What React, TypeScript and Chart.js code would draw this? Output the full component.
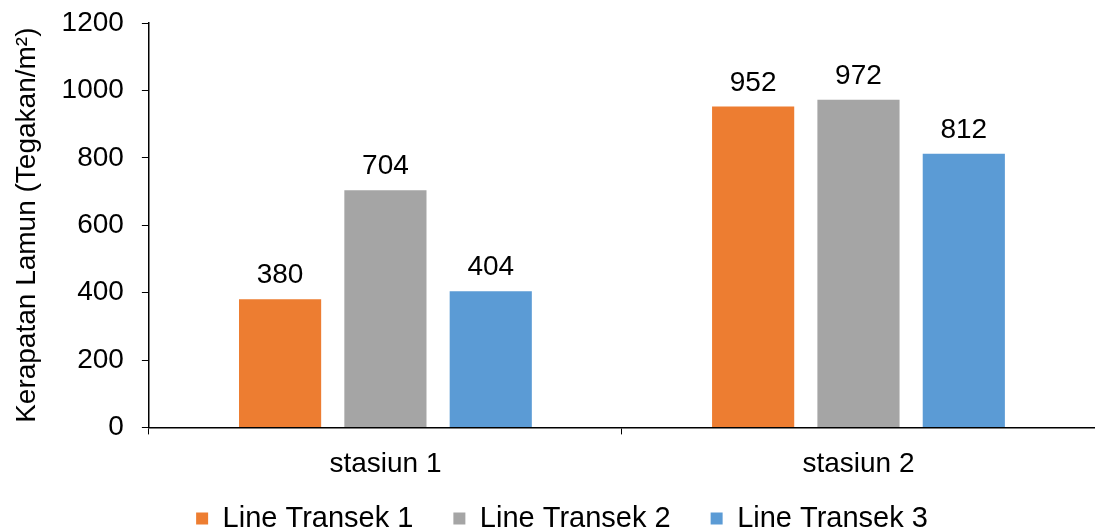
import React, { useEffect, useRef } from "react";
import { Chart, registerables } from "chart.js";

Chart.register(...registerables);

const categories = ["stasiun 1", "stasiun 2"];
const seriesNames = ["Line Transek 1", "Line Transek 2", "Line Transek 3"];
const transek1 = [380, 952];
const transek2 = [704, 972];
const transek3 = [404, 812];
const seriesColors = ["#ED7D31", "#A5A5A5", "#5B9BD5"];
const yTicks = [0, 200, 400, 600, 800, 1000, 1200];

const FONT = "'Liberation Sans', Arial, sans-serif";
const FS = 28;

const valueLabels = {
  id: "valueLabels",
  afterDatasetsDraw(chart: any) {
    const ctx = chart.ctx;
    ctx.save();
    ctx.font = `${FS}px ${FONT}`;
    ctx.fillStyle = "#000";
    ctx.textAlign = "center";
    ctx.textBaseline = "alphabetic";
    chart.data.datasets.forEach((ds: any, i: number) => {
      const meta = chart.getDatasetMeta(i);
      meta.data.forEach((bar: any, j: number) => {
        ctx.fillText(String(ds.data[j]), bar.x, bar.y - 16);
      });
    });
    ctx.restore();
  },
};

const legendShift = {
  id: "legendShift",
  afterLayout(chart: any) {
    const lg = chart.legend;
    if (lg) {
      lg.top -= 30;
      lg.bottom -= 30;
      lg.left += 12;
      lg.right += 12;
    }
  },
};

export default function App() {
  const ref = useRef<HTMLCanvasElement>(null);
  useEffect(() => {
    const datasets = [transek1, transek2, transek3].map((d, i) => ({
      label: seriesNames[i],
      data: d,
      backgroundColor: seriesColors[i],
      borderWidth: 0,
      categoryPercentage: 0.668,
      barPercentage: 0.78,
    }));
    const chart = new Chart(ref.current!, {
      type: "bar",
      data: { labels: categories, datasets },
      options: {
        animation: false,
        responsive: false,
        maintainAspectRatio: false,
        layout: { padding: { top: 0, right: -5, left: 0, bottom: -42 } },
        plugins: {
          tooltip: { enabled: false },
          legend: {
            position: "bottom",
            labels: {
              font: { family: FONT, size: 29 },
              color: "#000",
              boxWidth: 12,
              boxHeight: 12,
              padding: 40,
            },
          },
        },
        scales: {
          x: {
            grid: {
              drawOnChartArea: false,
              drawTicks: true,
              tickLength: 7,
              color: "#000",
              offset: true,
            },
            border: { color: "#000", width: 1.5 },
            ticks: {
              color: "#000",
              font: { family: FONT, size: FS },
              padding: 13,
            },
          },
          y: {
            min: 0,
            max: 1200,
            afterBuildTicks: (axis: any) => {
              axis.ticks = yTicks.map((v) => ({ value: v }));
            },
            afterFit: (scale: any) => {
              scale.paddingTop = 23;
            },
            grid: {
              drawOnChartArea: false,
              drawTicks: true,
              tickLength: 7,
              color: "#000",
            },
            border: { color: "#000", width: 1.5 },
            ticks: {
              color: "#000",
              font: { family: FONT, size: FS },
              padding: 18,
              callback: (v: any) => String(v),
            },
            title: {
              display: true,
              text: "Kerapatan Lamun (Tegakan/m²)",
              color: "#000",
              font: { family: FONT, size: FS },
              padding: { top: 10, bottom: 0 },
            },
          },
        },
      },
      plugins: [valueLabels, legendShift],
    });
    return () => chart.destroy();
  }, []);
  return (
    <div style={{ position: "absolute", left: 0, top: 0, width: 1095, height: 531 }}>
      <canvas ref={ref} width={1095} height={531} />
    </div>
  );
}
